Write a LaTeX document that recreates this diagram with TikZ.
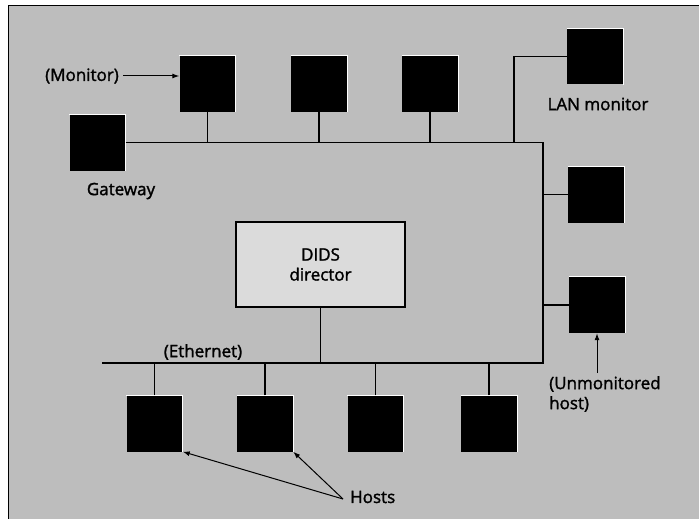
\documentclass[tikz,border=0pt]{standalone}
\usepackage{fontspec}
\setmainfont{Open Sans}[FakeBold=1.6]
\usetikzlibrary{arrows.meta, positioning}
\definecolor{halftone}{gray}{0.74}
\definecolor{dirfill}{gray}{0.86}

\begin{document}
\begin{tikzpicture}[x=1pt, y=-1pt,
      host/.style={fill=black, minimum size=56pt, inner sep=0pt},
      lbl/.style={font=\fontsize{17}{20}\selectfont, inner sep=0pt},
      net/.style={line width=1.5pt},
      arr/.style={-{Latex[length=7pt, width=5pt]}, line width=1pt}]
    \useasboundingbox (0,0) rectangle (699,519);
    \draw[fill=halftone, line width=1pt] (8,6) rectangle (710,530);

    \node[host] (monitor) at (207.5,84) {};
    \node[host] (top2) at (319,84) {};
    \node[host] (top3) at (430,83.5) {};
    \node[host] (gateway) at (97.5,142.5) {};
    \node[host] (lanmon) at (595,56.5) {};
    \node[host] (right1) at (596,194.5) {};
    \node[host] (unmon) at (597,305) {};
    \node[host] (host1) at (154.5,423.5) {};
    \node[host] (host2) at (265,423.5) {};
    \node[host] (host3) at (375.5,423.5) {};
    \node[host] (host4) at (489,423.5) {};
    \foreach \n in {monitor,top2,top3,gateway,lanmon,right1,unmon,host1,host2,host3,host4}
      \draw[white, line width=0.8pt] (\n.north west) -- (\n.north east) -- (\n.south east);

    \node[draw, net, fill=dirfill, minimum width=169pt, minimum height=85pt,
          align=center, lbl] (director) at (320.5,264.5) {DIDS\\director};

    \coordinate (busNE) at (543,142.5);
    \coordinate (busSE) at (543,363);
    \coordinate (ethW) at (102,363);
    \coordinate (lantap) at (514,142.5);

    \draw[net] (gateway.east) -- (busNE) -- (busSE) -- (ethW);
    \foreach \n in {monitor,top2,top3}
      \draw[net] (\n.south) -- (\n.south |- busNE);
    \draw[net] (lanmon.west) -| (lantap);
    \foreach \n in {right1,unmon}
      \draw[net] (\n.west) -- (\n.west -| busNE);
    \foreach \n in {host1,host2,host3,host4}
      \draw[net] (\n.north) -- (\n.north |- busSE);
    \draw[net] (director.south) -- (director.south |- busSE);

    \node[lbl, anchor=east] (monlabel) at (119,76) {(Monitor)};
    \node[lbl] (gwlabel) at (121,191) {Gateway};
    \node[lbl] (lanlabel) at (598,104) {LAN monitor};
    \node[lbl] (ethlabel) at (203,352) {(Ethernet)};
    \node[lbl, anchor=north west, align=left] (unmonlabel) at (549,376) {(Unmonitored\\host)};
    \node[lbl, anchor=west] (hosts) at (350,497) {Hosts};

    \draw[arr, shorten <=4pt] (monlabel) -- (monlabel -| monitor.west);
    \draw[arr, shorten <=3pt] (unmon.south |- unmonlabel.north) -- (unmon.south);
    \draw[arr] ([xshift=-7pt, yshift=-2pt]hosts.west) -- (host1.south east);
    \draw[arr] ([xshift=-7pt, yshift=-2pt]hosts.west) -- (host2.south east);
  \end{tikzpicture}
\end{document}
